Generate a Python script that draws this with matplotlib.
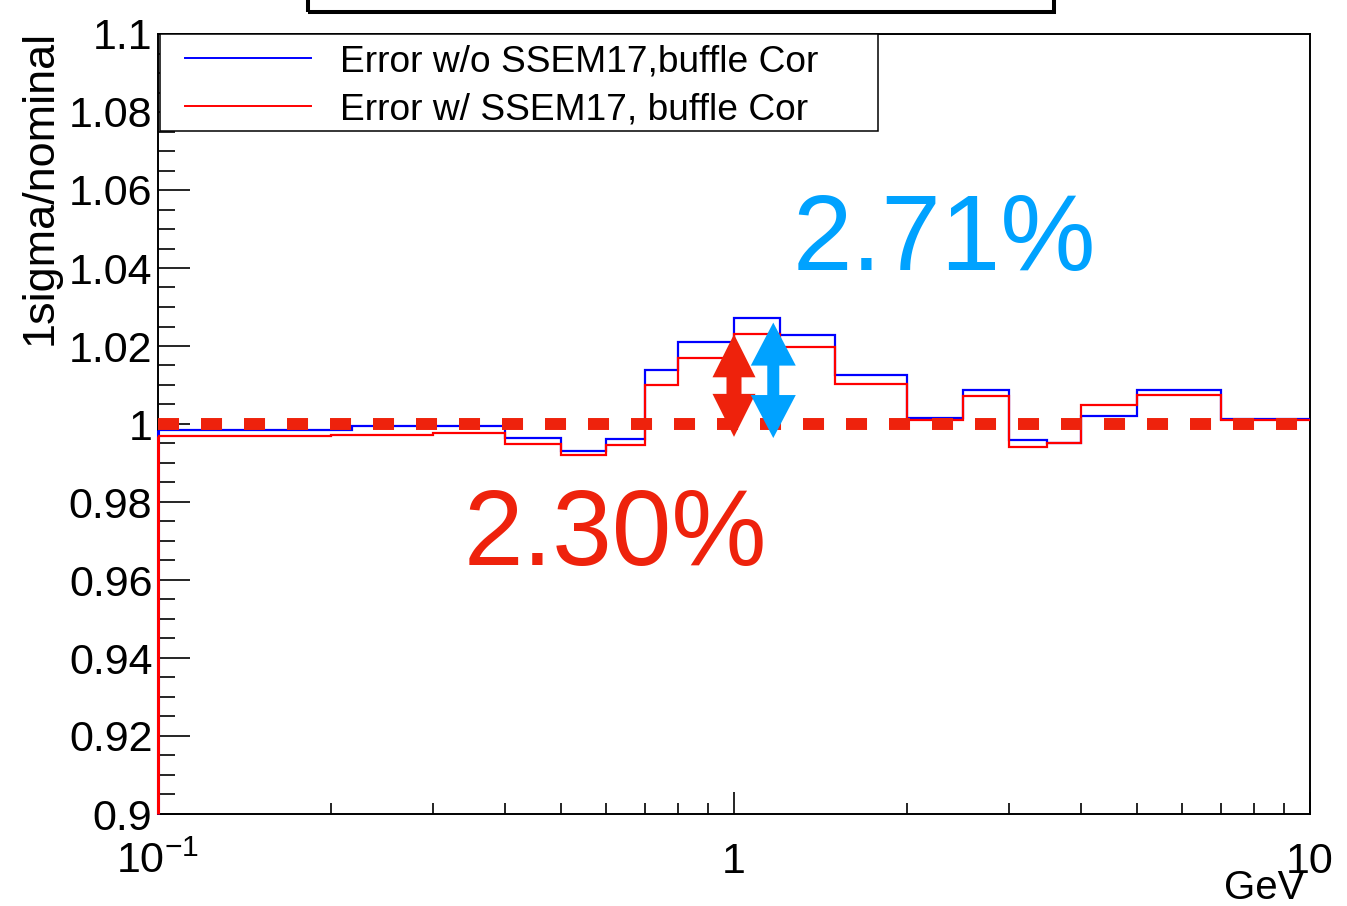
import matplotlib
matplotlib.use("Agg")
import matplotlib.pyplot as plt
from matplotlib.patches import Rectangle, Polygon
from matplotlib.lines import Line2D
from matplotlib.ticker import MultipleLocator, NullFormatter, FixedLocator
from matplotlib.transforms import IdentityTransform

plt.rcParams["font.family"] = ["Liberation Sans", "DejaVu Sans"]
plt.rcParams["mathtext.fontset"] = "custom"
plt.rcParams["mathtext.rm"] = "Liberation Sans"
plt.rcParams["mathtext.it"] = "Liberation Sans:italic"
plt.rcParams["mathtext.bf"] = "Liberation Sans:bold"

W, H, DPI = 1347, 906, 100

# 1sigma/nominal ratio per energy bin (GeV)
EDGES_WO = [0.1, 0.217, 0.4, 0.5, 0.6, 0.7, 0.8, 1.0, 1.2, 1.5, 2.0,
            2.5, 3.0, 3.5, 4.0, 5.0, 7.0, 10.0]
RATIO_WO = [0.9985, 0.9996, 0.9965, 0.9932, 0.9962, 1.0138, 1.0209,
            1.0271, 1.0229, 1.0125, 1.0015, 1.0086, 0.9959, 0.9950,
            1.0021, 1.0086, 1.0013]

EDGES_W = [0.1, 0.2, 0.3, 0.4, 0.5, 0.6, 0.7, 0.8, 1.0, 1.2, 1.5, 2.0,
           2.5, 3.0, 3.5, 4.0, 5.0, 7.0, 10.0]
RATIO_W = [0.9968, 0.9972, 0.9976, 0.9948, 0.9920, 0.9945, 1.0100,
           1.0168, 1.0230, 1.0198, 1.0103, 1.0009, 1.0072, 0.9942,
           0.9952, 1.0050, 1.0075, 1.0009]

LABEL_WO = "Error w/o SSEM17,buffle Cor"
LABEL_W = "Error w/ SSEM17, buffle Cor"

NOMINAL = 1.0
PEAK_WO = 1.0271
PEAK_W = 1.0230

Y_TICKS = [0.9, 0.92, 0.94, 0.96, 0.98, 1.0, 1.02, 1.04, 1.06, 1.08, 1.1]
Y_TICK_LABELS = ["0.9", "0.92", "0.94", "0.96", "0.98", "1",
                 "1.02", "1.04", "1.06", "1.08", "1.1"]
X_TICKS = [0.1, 1.0, 10.0]
X_TICK_LABELS = [r"10$^{-1}$", "1", "10"]

BLUE_HIST = "#0000ff"
RED_HIST = "#ff0000"
BLUE_NOTE = "#00a2ff"
RED_NOTE = "#ee220c"


def fx(px):
    return px / W


def fy(py):
    return 1 - py / H


fig = plt.figure(figsize=(W / DPI, H / DPI), dpi=DPI)
ax = fig.add_axes([fx(158), fy(814), fx(1310) - fx(158), fy(34) - fy(814)])

ax.set_xscale("log")
ax.set_xlim(0.1, 10)
ax.set_ylim(0.9, 1.1)

# histograms: outline only, with the left edge dropped to the axis floor
for edges, vals, col, z in [(EDGES_WO, RATIO_WO, BLUE_HIST, 3),
                            (EDGES_W, RATIO_W, RED_HIST, 3.1)]:
    ax.stairs(vals, edges, baseline=None, color=col, lw=1.6, zorder=z)
    ax.plot([edges[0], edges[0]], [0.9, vals[0]], color=col, lw=2.2,
            zorder=z, clip_on=False, solid_capstyle="butt")

# nominal reference line
ax.axhline(NOMINAL, color=RED_NOTE, lw=8.6, dashes=(1.76, 1.84),
           solid_capstyle="butt", dash_capstyle="butt", zorder=4)

for s in ax.spines.values():
    s.set_linewidth(1.4)
    s.set_zorder(2.5)

ax.yaxis.set_major_locator(FixedLocator(Y_TICKS))
ax.set_yticklabels(Y_TICK_LABELS)
ax.yaxis.set_minor_locator(MultipleLocator(0.005))
ax.set_xticks(X_TICKS)
ax.set_xticklabels(X_TICK_LABELS)
ax.xaxis.set_minor_formatter(NullFormatter())

ax.tick_params(which="both", direction="in", top=False, right=False,
               width=1.2, color="black")
ax.tick_params(axis="y", which="major", length=23, pad=4, labelsize=31)
ax.tick_params(axis="y", which="minor", length=12)
ax.tick_params(axis="x", which="major", length=16, pad=20, labelsize=31)
ax.tick_params(axis="x", which="minor", length=8)

fig.text(fx(20), fy(30), "1sigma/nominal", rotation=90, ha="left",
         va="top", fontsize=32.4)
fig.text(fx(1304), fy(899), "GeV", ha="right", va="baseline", fontsize=29)

# legend box
fig.add_artist(Rectangle((fx(160), fy(131)), fx(878) - fx(160),
                         fy(34) - fy(131), transform=fig.transFigure,
                         facecolor="white", edgecolor="black", lw=1.1,
                         zorder=5))
for yy, col, lab in [(58, BLUE_HIST, LABEL_WO), (106, RED_HIST, LABEL_W)]:
    fig.add_artist(Line2D([fx(185), fx(311)], [fy(yy), fy(yy)],
                          transform=fig.transFigure, color=col, lw=1.4,
                          zorder=6))
    fig.text(fx(340), fy(yy), lab, ha="left", va="center_baseline",
             fontsize=26.7, zorder=6)

# title frame, mostly cut off by the top edge
fig.add_artist(Rectangle((fx(308), fy(12)), fx(1054) - fx(308), 0.05,
                         transform=fig.transFigure, facecolor="none",
                         edgecolor="black", lw=2.9, zorder=6))


def double_arrow(xc, y0, y1, color, head_w, head_l, shaft_w):
    """Vertical two-headed arrow; width given in pixels."""
    cx, top = ax.transData.transform((xc, y1))
    _, bot = ax.transData.transform((xc, y0))
    hw, sw = head_w / 2, shaft_w / 2
    verts = [
        (cx, top), (cx + hw, top - head_l), (cx + sw, top - head_l),
        (cx + sw, bot + head_l), (cx + hw, bot + head_l), (cx, bot),
        (cx - hw, bot + head_l), (cx - sw, bot + head_l),
        (cx - sw, top - head_l), (cx - hw, top - head_l),
    ]
    fig.add_artist(Polygon(verts, closed=True, transform=IdentityTransform(),
                           facecolor=color, edgecolor="none", zorder=7))


double_arrow(1.0, 0.9967, PEAK_W, RED_NOTE, 43, 43, 15)
double_arrow(1.17, 0.9964, PEAK_WO - 0.0011, BLUE_NOTE, 45, 43, 12)

fig.text(fx(793), fy(270), f"{(PEAK_WO - 1) * 100:.2f}%", color=BLUE_NOTE,
         fontsize=77, ha="left", va="baseline")
fig.text(fx(464), fy(565), f"{(PEAK_W - 1) * 100:.2f}%", color=RED_NOTE,
         fontsize=77, ha="left", va="baseline")

fig.savefig("out.png", dpi=DPI, facecolor="white")
